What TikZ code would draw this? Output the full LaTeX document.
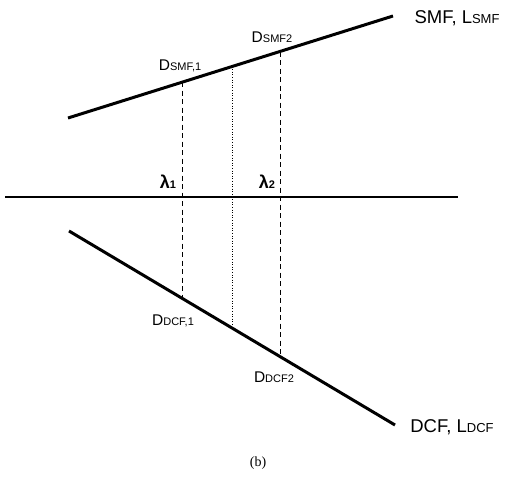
\documentclass[tikz,border=0pt]{standalone}
\usepackage{fontspec}
\setmainfont{Liberation Sans}
\newfontfamily\capfont{Liberation Serif}
\usetikzlibrary{positioning}
\newcommand{\smallsub}[1]{{\fontsize{11}{11}\selectfont #1}}
\newcommand{\bigsub}[1]{{\fontsize{13}{13}\selectfont #1}}

\begin{document}
\begin{tikzpicture}[x=1pt, y=-1pt,
    fiber/.style={line width=3pt},
    guide/.style={line width=0.9pt, dash pattern=on 5pt off 3.5pt},
    mid guide/.style={line width=0.8pt, dash pattern=on 1pt off 1.6pt},
    dlabel/.style={anchor=base, inner sep=0pt, font=\fontsize{15.5}{15.5}\selectfont},
    curve label/.style={anchor=base, inner sep=0pt, font=\fontsize{18.5}{18.5}\selectfont}]
            \useasboundingbox (0,0) rectangle (505,479);

            \coordinate (smfA) at (68, 118);
            \coordinate (smfB) at (393, 16);
            \coordinate (dcfA) at (69, 231);
            \coordinate (dcfB) at (395, 425);
            \coordinate (axisA) at (5, 197);
            \coordinate (axisB) at (458, 197);
            \coordinate (s1) at (182, 82.2);
            \coordinate (d1) at (182, 298.2);
            \coordinate (s0) at (232, 66.5);
            \coordinate (d0) at (232, 328);
            \coordinate (s2) at (280, 51.5);
            \coordinate (d2) at (280, 356.6);

            \draw[guide] (s1) -- (d1);
            \draw[mid guide] (s0) -- (d0);
            \draw[guide] (s2) -- (d2);

            \draw[fiber] (smfA) -- (smfB);
            \draw[fiber] (dcfA) -- (dcfB);
            \draw[line width=2.6pt] (axisA) -- (axisB);

            \node[curve label] (smf) at (457, 23) {SMF, L\bigsub{SMF}};
            \node[curve label] (dcf) at (452, 432) {DCF, L\bigsub{DCF}};
            \node[dlabel] (dsmf1) at (180, 70) {D\smallsub{SMF,1}};
            \node[dlabel] (dsmf2) at (272, 42) {D\smallsub{SMF2}};
            \node[dlabel] (ddcf1) at (173, 325) {D\smallsub{DCF,1}};
            \node[dlabel] (ddcf2) at (274, 382) {D\smallsub{DCF2}};
            \node[dlabel, font=\fontsize{18}{18}\selectfont\bfseries] (lam1) at (168, 188) {λ\smallsub{1}};
            \node[dlabel, font=\fontsize{18}{18}\selectfont\bfseries] (lam2) at (267, 188) {λ\smallsub{2}};
            \node[anchor=base, inner sep=0pt, font=\capfont\fontsize{14}{14}\selectfont] (cap) at (258, 466) {(b)};
        \end{tikzpicture}
\end{document}
